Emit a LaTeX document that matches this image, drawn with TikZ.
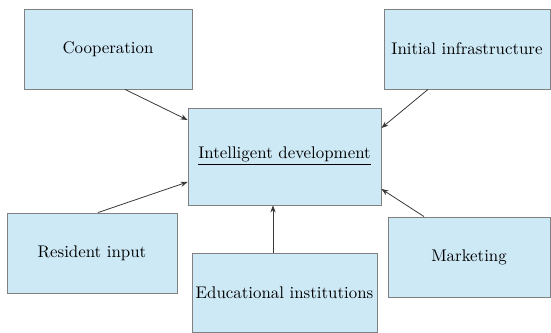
\documentclass[tikz,border=0pt]{standalone}
\usepackage{tikz}
\usetikzlibrary{arrows.meta,calc}
\definecolor{boxblue}{RGB}{205,233,246}
\definecolor{boxline}{RGB}{128,128,128}
\definecolor{arrowline}{RGB}{55,55,55}

\begin{document}
\begin{tikzpicture}[x=0.02cm, y=-0.02cm,
    every node/.style={font=\fontsize{9.6pt}{11pt}\selectfont, inner sep=0pt},
    factor/.style={rectangle, draw=boxline, fill=boxblue, line width=0.5pt,
        minimum width=3.36cm, minimum height=1.6cm},
    feed/.style={draw=arrowline, line width=0.45pt, -{Stealth[length=4pt,width=3pt]}}]
\useasboundingbox (0,0) rectangle (551,333);

% centre box
\node[factor, minimum width=3.86cm, minimum height=1.94cm] (dev) at (284.5,156.5)
    {\underline{Intelligent development}};

% surrounding factors
\node[factor] (coop) at (108,49) {Cooperation};
\node[factor, minimum width=3.32cm] (infra) at (467,49) {Initial infrastructure};
\node[factor, minimum width=3.4cm] (resident) at (92,253) {Resident input};
\node[factor, minimum width=3.7cm, minimum height=1.58cm] (edu) at (284.5,292.5)
    {Educational institutions};
\node[factor, minimum width=3.24cm] (market) at (469,257) {Marketing};

% arrows into the centre
\draw[feed] ($(coop.south)+(17,0)$) -- ($(dev.west)+(0,-36.5)$);
\draw[feed] ($(infra.south)+(-39,0)$) -- ($(dev.east)+(0,-28.5)$);
\draw[feed] ($(resident.north)+(6,0)$) -- ($(dev.west)+(0,25.5)$);
\draw[feed] ($(edu.north)+(-11.5,0)$) -- ($(dev.south)+(-11.5,0)$);
\draw[feed] ($(market.north)+(-45,0)$) -- ($(dev.east)+(0,32.5)$);

\end{tikzpicture}
\end{document}
